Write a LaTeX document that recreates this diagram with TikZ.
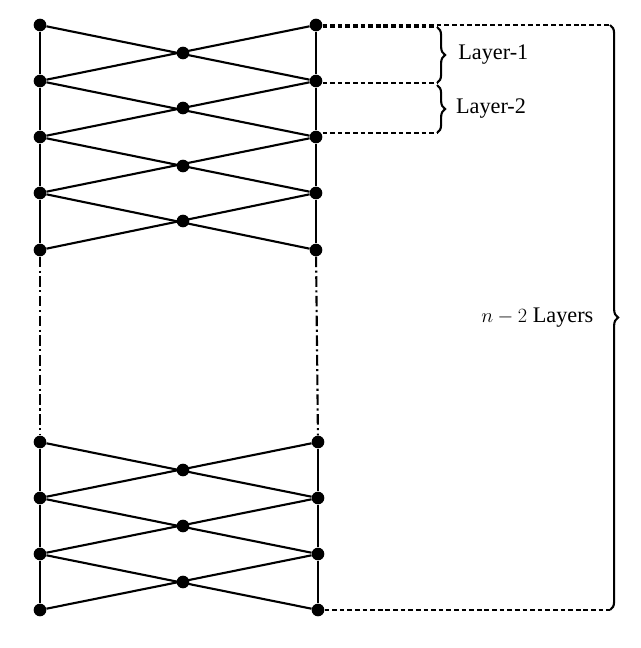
\documentclass[tikz,border=0pt]{standalone}
\usepackage{fontspec}
\setmainfont{Liberation Serif}
\usetikzlibrary{decorations.pathreplacing}
\tikzset{
  dot/.style={shape=circle,fill=black,inner sep=0pt,minimum size=0.38cm},
  wire/.style={-, line width=1.8pt},
  guide/.style={dash pattern=on 4pt off 2.5pt, line width=1pt},
  brc/.style={decorate, decoration={brace, amplitude=7pt}, line width=1.8pt},
  lbl/.style={font=\fontsize{19}{22}\selectfont}
}
\begin{document}
\begin{tikzpicture}[x=0.03cm,y=-0.03cm]
	\useasboundingbox (0,0) rectangle (640,648);
	
	% top group
	\foreach \i/\y in {1/25,2/81,3/137,4/193,5/250} {
		\node[dot] (l\i) at (40, \y) {};
		\node[dot] (r\i) at (316, \y) {};
	}
	\foreach \i/\y in {1/53,2/108,3/166,4/221}
		\node[dot] (m\i) at (183, \y) {};
	% bottom group
	\foreach \i/\y in {1/442,2/498,3/554,4/610} {
		\node[dot] (bl\i) at (40, \y) {};
		\node[dot] (br\i) at (318, \y) {};
	}
	\foreach \i/\y in {1/470,2/526,3/582}
		\node[dot] (bm\i) at (183, \y) {};
	
	\foreach \i/\j in {1/2,2/3,3/4,4/5} {
		\path[wire] (l\i) edge (l\j);
		\path[wire] (r\i) edge (r\j);
		\path[wire] (l\i) edge (r\j);
		\path[wire] (r\i) edge (l\j);
	}
	\foreach \i/\j in {1/2,2/3,3/4} {
		\path[wire] (bl\i) edge (bl\j);
		\path[wire] (br\i) edge (br\j);
		\path[wire] (bl\i) edge (br\j);
		\path[wire] (br\i) edge (bl\j);
	}
	\path[line width=1.8pt, dash pattern=on 9pt off 3pt on 1.8pt off 3pt] (l5) edge (bl1);
	\path[line width=1.8pt, dash pattern=on 9pt off 3pt on 1.8pt off 3pt] (r5) edge (br1);
	
	% braces
	\coordinate (t1) at (437, 27);
	\coordinate (t2) at (437, 83);
	\coordinate (t3) at (437, 85);
	\coordinate (t4) at (437, 133);
	\coordinate (bt) at (610, 25);
	\coordinate (bb) at (610, 610);
	\draw[guide] (r1.east |- t1) -- (t1);
	\draw[guide] (r2.east |- t2) -- (t2);
	\draw[guide] (r3.east |- t4) -- (t4);
	\draw[guide] (r1) -- (bt);
	\draw[guide] (br4) -- (bb);
	\draw[brc] (t1) -- (t2) node[midway, right=14pt, lbl] (lay1) {Layer-1};
	\draw[brc] (t3) -- (t4) node[midway, right=12pt, lbl] (lay2) {Layer-2};
	\draw[brc] (bt) -- (bb) node[midway, left=10pt, lbl] (layn) {$n-2$ Layers};
	
\end{tikzpicture}
\end{document}
